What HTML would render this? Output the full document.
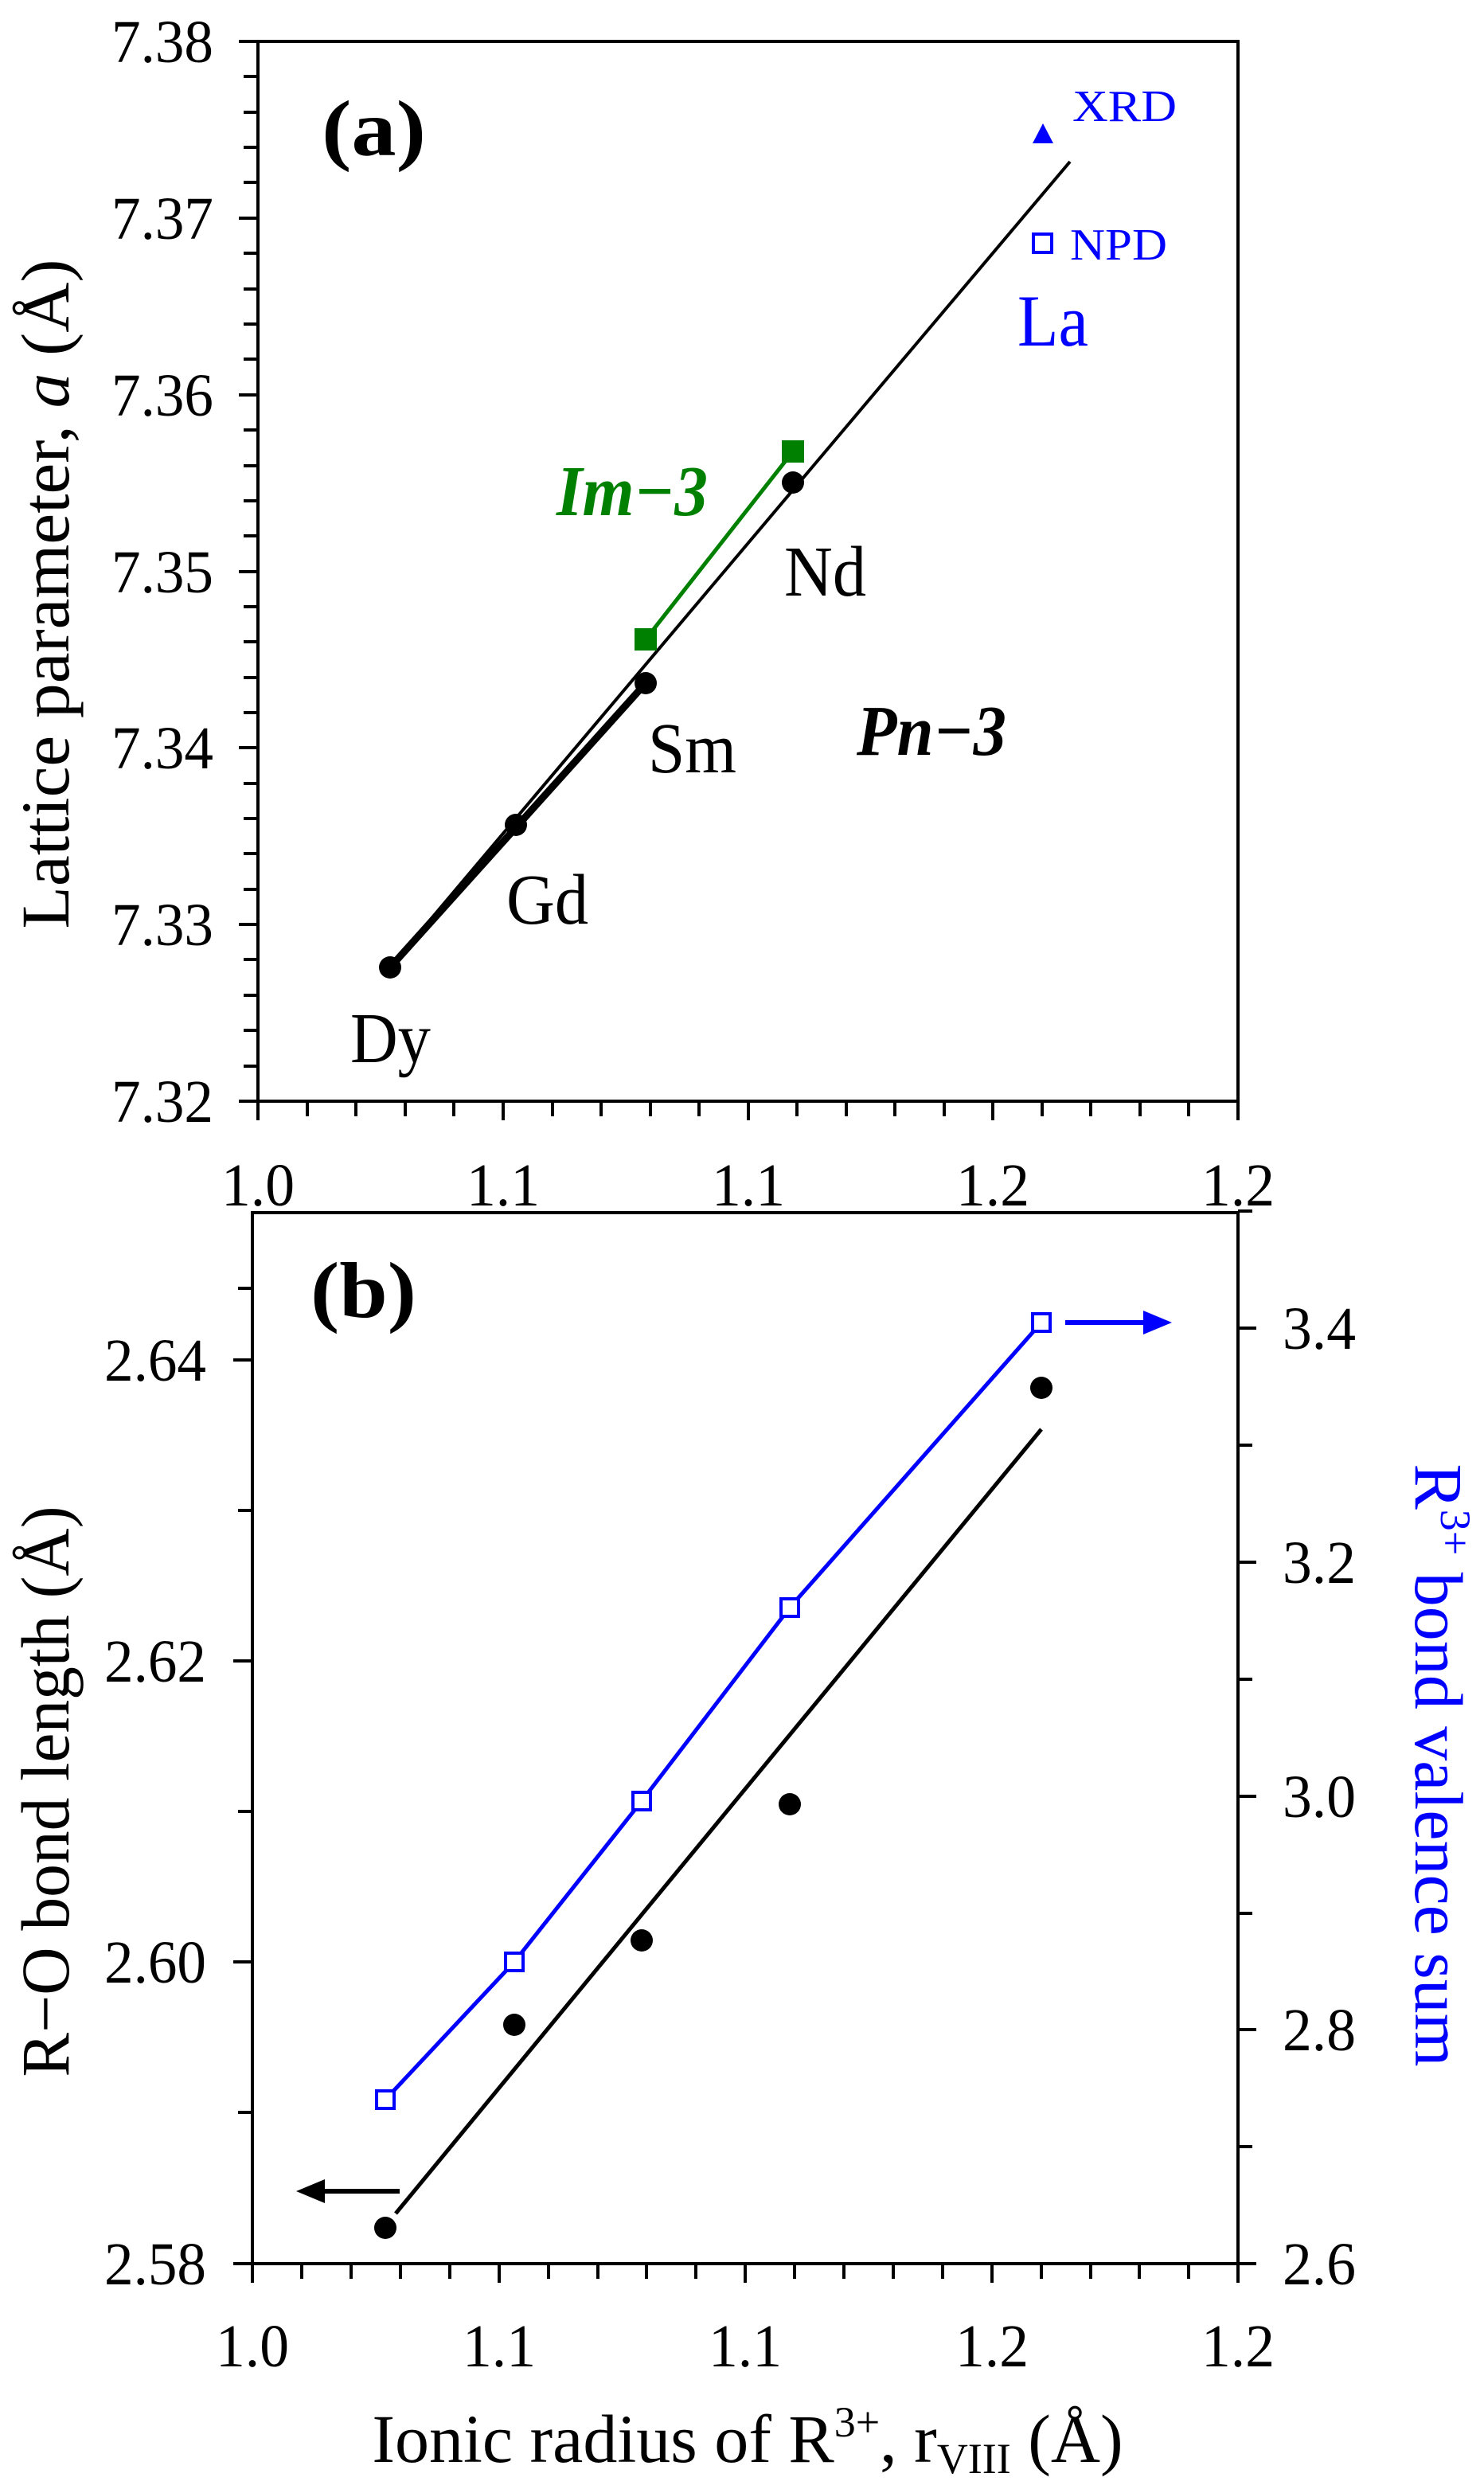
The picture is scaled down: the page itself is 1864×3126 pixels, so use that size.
<!DOCTYPE html>
<html><head><meta charset="utf-8"><style>
html,body{margin:0;padding:0;background:#fff;}
svg{display:block;}
svg text{font-family:"Liberation Serif","Times New Roman","Nimbus Roman","Tinos",serif;}
</style></head><body>
<svg width="1864" height="3126" viewBox="0 0 1864 3126" xmlns="http://www.w3.org/2000/svg">
<g stroke="#000" stroke-width="4" fill="none">
<rect x="324" y="52" width="1231" height="1331"/>
<path d="M300 52H324 M300 274H324 M300 496H324 M300 718H324 M300 939H324 M300 1161H324 M300 1383H324"/>
<path d="M306 96H324 M306 141H324 M306 185H324 M306 229H324
M306 318H324 M306 363H324 M306 407H324 M306 451H324
M306 540H324 M306 585H324 M306 629H324 M306 673H324
M306 762H324 M306 806H324 M306 851H324 M306 895H324
M306 984H324 M306 1028H324 M306 1072H324 M306 1117H324
M306 1205H324 M306 1250H324 M306 1294H324 M306 1339H324"/>
<path d="M324 1383V1407 M632 1383V1407 M940 1383V1407 M1247 1383V1407 M1555 1383V1407"/>
<path d="M386 1383V1402 M447 1383V1402 M509 1383V1402 M570 1383V1402
M694 1383V1402 M755 1383V1402 M817 1383V1402 M878 1383V1402
M1001 1383V1402 M1063 1383V1402 M1124 1383V1402 M1186 1383V1402
M1309 1383V1402 M1370 1383V1402 M1432 1383V1402 M1493 1383V1402"/>

<rect x="317" y="1523" width="1238" height="1320"/>
<path d="M293 1708H317 M293 2086H317 M293 2464H317 M293 2843H317"/>
<path d="M299 1897H317 M299 2275H317 M299 2653H317 M299 1618H317"/>
<path d="M1555 1668H1578 M1555 1962H1578 M1555 2256H1578 M1555 2549H1578 M1555 2843H1578"/>
<path d="M1555 1815H1573 M1555 2109H1573 M1555 2403H1573 M1555 2696H1573 M1555 1521H1573"/>
<path d="M317 2843V2867 M627 2843V2867 M936 2843V2867 M1246 2843V2867 M1555 2843V2867"/>
<path d="M379 2843V2862 M441 2843V2862 M503 2843V2862 M565 2843V2862
M689 2843V2862 M751 2843V2862 M812 2843V2862 M874 2843V2862
M998 2843V2862 M1060 2843V2862 M1122 2843V2862 M1184 2843V2862
M1308 2843V2862 M1370 2843V2862 M1431 2843V2862 M1493 2843V2862"/>
</g>

<g font-size="76" text-anchor="end" fill="#000">
<text x="268" y="78" textLength="128" lengthAdjust="spacingAndGlyphs">7.38</text>
<text x="268" y="300" textLength="128" lengthAdjust="spacingAndGlyphs">7.37</text>
<text x="268" y="522" textLength="128" lengthAdjust="spacingAndGlyphs">7.36</text>
<text x="268" y="744" textLength="128" lengthAdjust="spacingAndGlyphs">7.35</text>
<text x="268" y="965" textLength="128" lengthAdjust="spacingAndGlyphs">7.34</text>
<text x="268" y="1187" textLength="128" lengthAdjust="spacingAndGlyphs">7.33</text>
<text x="268" y="1409" textLength="128" lengthAdjust="spacingAndGlyphs">7.32</text>
</g>
<g font-size="76" text-anchor="middle" fill="#000">
<text x="324" y="1514" textLength="92" lengthAdjust="spacingAndGlyphs">1.0</text>
<text x="632" y="1514" textLength="92" lengthAdjust="spacingAndGlyphs">1.1</text>
<text x="940" y="1514" textLength="92" lengthAdjust="spacingAndGlyphs">1.1</text>
<text x="1247" y="1514" textLength="92" lengthAdjust="spacingAndGlyphs">1.2</text>
<text x="1555" y="1514" textLength="92" lengthAdjust="spacingAndGlyphs">1.2</text>
</g>
<text font-size="86" text-anchor="middle" transform="translate(86,746) rotate(-90)" textLength="841" lengthAdjust="spacingAndGlyphs">Lattice parameter, <tspan font-style="italic">a</tspan> (Å)</text>

<line x1="490" y1="1215" x2="1344" y2="203" stroke="#000" stroke-width="4"/>
<line x1="490" y1="1215" x2="811" y2="858" stroke="#000" stroke-width="9"/>
<line x1="811" y1="803" x2="996" y2="567" stroke="#008000" stroke-width="5"/>
<g fill="#000">
<circle cx="490" cy="1215" r="14"/><circle cx="648" cy="1036" r="14"/>
<circle cx="811" cy="858" r="14"/><circle cx="996" cy="606" r="14"/>
</g>
<g fill="#008000">
<rect x="797" y="789" width="28" height="28"/><rect x="982" y="553" width="28" height="28"/>
</g>
<polygon points="1310,155 1297,180 1323,180" fill="#0000ff"/>
<rect x="1298" y="294" width="23" height="23" fill="none" stroke="#0000ff" stroke-width="4"/>
<g fill="#0000ff">
<text x="1347" y="152" font-size="56" textLength="131" lengthAdjust="spacingAndGlyphs">XRD</text>
<text x="1344" y="326" font-size="56" textLength="122" lengthAdjust="spacingAndGlyphs">NPD</text>
<text x="1278" y="434" font-size="92" textLength="89" lengthAdjust="spacingAndGlyphs">La</text>
</g>
<g font-size="90" fill="#000">
<text x="985" y="748" textLength="103" lengthAdjust="spacingAndGlyphs">Nd</text>
<text x="814" y="970" textLength="111" lengthAdjust="spacingAndGlyphs">Sm</text>
<text x="636" y="1160" textLength="103" lengthAdjust="spacingAndGlyphs">Gd</text>
<text x="440" y="1334" textLength="101" lengthAdjust="spacingAndGlyphs">Dy</text>
<text x="1076" y="948" font-weight="bold" font-style="italic" textLength="188" lengthAdjust="spacingAndGlyphs">Pn−3</text>
<text x="404" y="195" font-size="100" font-weight="bold" textLength="131" lengthAdjust="spacingAndGlyphs">(a)</text>
</g>
<text x="699" y="647" font-size="90" font-weight="bold" font-style="italic" fill="#008000" textLength="190" lengthAdjust="spacingAndGlyphs">Im−3</text>

<g font-size="76" text-anchor="end" fill="#000">
<text x="259" y="1734" textLength="128" lengthAdjust="spacingAndGlyphs">2.64</text>
<text x="259" y="2112" textLength="128" lengthAdjust="spacingAndGlyphs">2.62</text>
<text x="259" y="2490" textLength="128" lengthAdjust="spacingAndGlyphs">2.60</text>
<text x="259" y="2869" textLength="128" lengthAdjust="spacingAndGlyphs">2.58</text>
</g>
<g font-size="76" fill="#000">
<text x="1611" y="1694" textLength="92" lengthAdjust="spacingAndGlyphs">3.4</text>
<text x="1611" y="1988" textLength="92" lengthAdjust="spacingAndGlyphs">3.2</text>
<text x="1611" y="2282" textLength="92" lengthAdjust="spacingAndGlyphs">3.0</text>
<text x="1611" y="2575" textLength="92" lengthAdjust="spacingAndGlyphs">2.8</text>
<text x="1611" y="2869" textLength="92" lengthAdjust="spacingAndGlyphs">2.6</text>
</g>
<g font-size="76" text-anchor="middle" fill="#000">
<text x="317" y="2972" textLength="92" lengthAdjust="spacingAndGlyphs">1.0</text>
<text x="627" y="2972" textLength="92" lengthAdjust="spacingAndGlyphs">1.1</text>
<text x="936" y="2972" textLength="92" lengthAdjust="spacingAndGlyphs">1.1</text>
<text x="1246" y="2972" textLength="92" lengthAdjust="spacingAndGlyphs">1.2</text>
<text x="1555" y="2972" textLength="92" lengthAdjust="spacingAndGlyphs">1.2</text>
</g>
<text font-size="86" text-anchor="middle" transform="translate(86,2250) rotate(-90)" textLength="717" lengthAdjust="spacingAndGlyphs">R−O bond length (Å)</text>
<text font-size="86" text-anchor="middle" fill="#0000ff" transform="translate(1778,2217) rotate(90)">R<tspan font-size="54" dy="-32">3+</tspan><tspan dy="32"> bond valence sum</tspan></text>
<text x="939" y="3092" font-size="86" text-anchor="middle">Ionic radius of R<tspan font-size="54" dy="-32">3+</tspan><tspan dy="32">, r</tspan><tspan font-size="54" dy="14">VIII</tspan><tspan dy="-14"> (Å)</tspan></text>
<text x="390" y="1654" font-size="100" font-weight="bold" textLength="133" lengthAdjust="spacingAndGlyphs">(b)</text>

<line x1="497" y1="2780" x2="1308" y2="1795" stroke="#000" stroke-width="5"/>
<polyline points="484,2637 646,2464 806,2262 992,2019 1308,1661" fill="none" stroke="#0000ff" stroke-width="5"/>
<g fill="#000">
<circle cx="484" cy="2798" r="14"/><circle cx="646" cy="2543" r="14"/>
<circle cx="806" cy="2437" r="14"/><circle cx="992" cy="2266" r="14"/>
<circle cx="1308" cy="1743" r="14"/>
</g>
<g fill="#fff" stroke="#0000ff" stroke-width="4">
<rect x="473" y="2626" width="22" height="22"/><rect x="635" y="2453" width="22" height="22"/>
<rect x="795" y="2251" width="22" height="22"/><rect x="981" y="2008" width="22" height="22"/>
<rect x="1297" y="1650" width="22" height="22"/>
</g>
<line x1="1338" y1="1661" x2="1440" y2="1661" stroke="#0000ff" stroke-width="6"/>
<polygon points="1472,1661 1436,1646 1436,1676" fill="#0000ff"/>
<line x1="502" y1="2752" x2="400" y2="2752" stroke="#000" stroke-width="6"/>
<polygon points="372,2752 408,2737 408,2767" fill="#000"/>
</svg>
</body></html>
